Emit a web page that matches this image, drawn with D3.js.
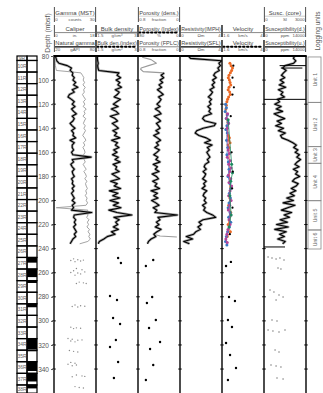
<!DOCTYPE html>
<html>
<head>
<meta charset="utf-8">
<script src="https://cdn.jsdelivr.net/npm/d3@7"></script>
<style>
  body { margin: 0; background: #fff; }
  text { font-family: "Liberation Sans", Arial, sans-serif; }
</style>
</head>
<body>
<script>
// depth samples of the downhole logs (mbsf)
const logDepth = [80, 82, 84, 86, 88, 90, 92, 94, 96, 98,
  100, 102, 104, 106, 108, 110, 112, 114, 116, 118,
  120, 122, 124, 126, 128, 130, 132, 134, 136, 138,
  140, 142, 144, 146, 148, 150, 152, 154, 156, 158,
  160, 162, 164, 166, 168, 170, 172, 174, 176, 178,
  180, 182, 184, 186, 188, 190, 192, 194, 196, 198,
  200, 202, 204, 206, 208, 210, 212, 214, 216, 218,
  220, 222, 224, 226, 228, 230, 232, 234, 236];

// natural gamma (gAPI)
const gammaNat = [22, 23, 24, 27, 39, 45, 43, 47, 46, 49,
  47, 51, 48, 54, 46, 49, 42, 40, 45, 49,
  46, 50, 45, 48, 52, 46, 49, 47, 43, 46,
  50, 45, 48, 47, 51, 43, 49, 46, 46, 48,
  45, 47, 73, 46, 48, 44, 46, 49, 46, 47,
  49, 45, 47, 46, 49, 46, 48, 45, 47, 49,
  46, 50, 46, 48, 45, 74, 49, 48, 51, 49,
  51, 48, 50, 52, 49, 51, 47, 45, 43];

// caliper (in.)
const caliper = [0.5, 0.5, 0.5, 0.5, 0.6, 0.8, 1, 11.5, 12.2, 12.8,
  12.5, 13.1, 12.4, 13.4, 12.7, 13.0, 12.2, 12.8, 13.5, 12.6,
  13.2, 12.5, 13.8, 12.9, 13.3, 12.4, 13.6, 13.0, 12.6, 13.4,
  12.8, 13.5, 12.9, 12.3, 13.1, 13.7, 12.6, 13.2, 12.4, 13.0,
  13.3, 12.7, 13.6, 12.9, 13.4, 12.5, 13.1, 13.8, 12.8, 13.5,
  13.9, 13.2, 14.1, 13.5, 13.8, 14.3, 13.6, 14.0, 13.4, 14.2,
  13.8, 14.4, 13.7, 1.0, 14.5, 13.9, 14.6, 14.0, 15.0, 14.3,
  14.8, 14.1, 15.2, 14.6, 15.4, 14.9, 15.6, 14.5, 11.0];

// bulk density (g/cm3)
const bulkDensity = [1.55, 1.55, 1.56, 1.58, 1.56, 1.57, 1.6, 2.32, 2.25, 2.38,
  2.22, 2.35, 2.28, 2.41, 2.19, 2.33, 2.26, 2.15, 2.37, 2.24,
  2.12, 2.29, 2.05, 2.22, 2.31, 2.01, 2.18, 2.27, 2.08, 2.2,
  2.3, 2.1, 2.24, 2.16, 2.35, 2.06, 2.27, 2.19, 2.32, 2.13,
  2.25, 2.09, 2.3, 2.18, 2.36, 2.11, 2.24, 2.2, 2.33, 2.07,
  2.21, 2.34, 2.02, 2.26, 2.15, 2.38, 1.98, 2.28, 2.1, 2.35,
  2.0, 2.3, 2.12, 2.39, 1.96, 2.25, 2.78, 2.14, 2.33, 2.2,
  2.28, 2.12, 2.3, 2.05, 2.18, 1.9, 1.78, 1.62, 1.58];

// porosity (fraction), log starts at 94 m
const porosity = [null, null, null, null, null, null, null, 0.3, 0.36, 0.31,
  0.38, 0.33, 0.4, 0.35, 0.43, 0.37, 0.32, 0.41, 0.36, 0.39,
  0.44, 0.38, 0.47, 0.4, 0.36, 0.49, 0.42, 0.37, 0.45, 0.41,
  0.38, 0.46, 0.4, 0.5, 0.43, 0.37, 0.45, 0.41, 0.48, 0.39,
  0.44, 0.5, 0.42, 0.46, 0.38, 0.51, 0.43, 0.47, 0.4, 0.53,
  0.45, 0.41, 0.52, 0.44, 0.48, 0.39, 0.55, 0.43, 0.5, 0.42,
  0.54, 0.46, 0.4, 0.51, 0.44, 0.48, 0.05, 0.42, 0.38, 0.45,
  0.4, 0.47, 0.36, 0.44, 0.5, 0.46, 0.55, 0.6, 0.62];
const porTopDepth = [81, 83, 86, 88, 90, 91, 93, 94];
const porTopVal = [0.72, 0.55, 0.45, 0.6, 0.74, 0.75, 0.7, 0.3];
const porBaseDepth = [228, 229.5, 230.3];
const porBaseVal = [0.5, 0.38, 0.06];

// resistivity (ohm m)
const resistivity = [0.8, 1.0, 3.95, 3.7, 3.85, 3.6, 3.75, 3.35, 3.2, 3.45,
  3.1, 3.3, 3.05, 3.25, 2.85, 3.1, 2.95, 2.7, 3.0, 2.8,
  2.95, 2.65, 2.9, 2.75, 3.0, 2.3, 2.15, 2.4, 3.4, 3.25,
  2.2, 1.6, 1.45, 1.8, 2.5, 2.9, 2.35, 3.05, 2.6, 2.8,
  2.55, 2.7, 2.85, 2.6, 2.75, 2.4, 2.3, 2.5, 2.2, 2.45,
  2.35, 2.15, 2.5, 2.25, 2.4, 2.1, 2.55, 2.3, 2.2, 2.45,
  2.3, 2.5, 2.15, 2.4, 2.25, 2.55, 3.1, 3.4, 2.2, 1.8,
  2.05, 1.7, 1.95, 1.5, 1.3, 0.6, 1.2, 0.35, 0.9];

// magnetic susceptibility (ppm)
const susceptibility = [10200, 9800, 10600, 9900, 7000, 6200, 7400, 6500, 5800, 6900,
  5400, 6600, 5100, 7200, 4800, 6300, 5600, 6800, 4500, 5200,
  3600, 5700, 4100, 6200, 3400, 5000, 6900, 4400, 5800, 3900,
  6500, 4800, 7100, 5500, 6000, 8000, 9600, 10800, 9900, 11300,
  10400, 11800, 10900, 12200, 11100, 10300, 11700, 9800, 11200, 10500,
  11900, 10200, 9500, 11400, 10700, 9100, 10600, 8700, 10100, 7600,
  9800, 6400, 10300, 7900, 5800, 9200, 6700, 8500, 5400, 7800,
  4200, 8100, 3600, 7400, 5200, 6800, 4600, 7100, 6200];
const suscSpikeDepth = [88, 90, 116, 238.6];
const suscSpikeLo = [5200, 5600, 0, 0];
const suscSpikeHi = [14000, 12800, 14000, 7000];

// velocity (km/s), several series
const velOrangeDepth = [86, 88, 90, 92, 94, 96, 98, 100, 102, 104, 106, 108, 110, 112, 114, 116, 118, 121, 124, 146, 148, 150, 152, 154, 156, 198, 204, 210, 214, 220, 226, 230];
const velOrange = [2.05, 2.12, 2.2, 2.15, 2.08, 2.0, 1.96, 2.02, 2.06, 2.1, 2.0, 1.95, 2.04, 2.08, 1.98, 1.92, 1.88, 1.85, 1.82, 1.95, 2.02, 1.98, 2.06, 1.94, 2.0, 2.05, 1.98, 2.1, 2.02, 1.95, 2.08, 1.9];
const velBlueDepth = [120, 123, 126, 129, 132, 135, 138, 141, 144, 150, 156, 162, 168, 174, 180, 186, 190, 194, 198, 202, 206, 210, 214, 218, 222, 226, 230, 234, 237];
const velBlue = [1.8, 1.85, 1.78, 1.9, 1.84, 1.95, 1.88, 1.82, 1.9, 1.86, 1.92, 1.88, 1.96, 2.0, 1.94, 2.05, 2.1, 2.02, 2.08, 2.0, 1.95, 2.06, 1.98, 2.1, 2.02, 1.92, 1.85, 1.8, 1.88];
const velMagentaDepth = [128, 132, 136, 140, 158, 161, 164, 167, 170, 173, 176, 179, 182, 185, 188, 192, 196, 200, 204, 208, 212, 216, 220, 224, 228, 232, 235];
const velMagenta = [1.92, 1.86, 1.98, 1.9, 1.95, 2.02, 1.9, 2.08, 1.98, 2.12, 2.05, 1.96, 2.1, 2.0, 2.15, 2.06, 1.98, 2.12, 2.04, 1.96, 2.1, 2.0, 2.06, 1.94, 1.88, 1.82, 1.9];
const velGreenDepth = [133, 170, 177, 184, 196, 212, 222];
const velGreen = [1.95, 2.15, 2.2, 2.1, 2.05, 2.12, 2.0];
const velBlackDepth = [88, 98, 106, 112, 130, 160, 176, 190, 206, 228];
const velBlack = [2.25, 2.2, 2.28, 2.2, 2.1, 2.15, 2.22, 2.18, 2.2, 2.05];

// discrete core measurements below the logged interval
const coreDensDepth = [247.8, 251.9, 279.3, 282.6, 297.6, 302.6, 315.9, 321.7, 334.2, 347.4];
const coreDens = [2.29, 2.39, 2.0, 2.25, 2.11, 2.36, 2.21, 2.0, 2.29, 2.14];
const corePorDepth = [249.4, 254.4, 280.2, 285.1, 299.3, 305.9, 317.5, 323.4, 336.6, 349.1];
const corePor = [0.51, 0.65, 0.53, 0.63, 0.46, 0.59, 0.38, 0.57, 0.51, 0.65];
const coreVelDepth = [251, 254.4, 280.2, 283.5, 299.3, 305.1, 318.4, 328.3, 339.1, 349.1];
const coreVel = [2.11, 1.83, 2.0, 2.34, 1.94, 2.17, 1.83, 2.06, 2.4, 1.94];
const coreSuscDepth = [246.9, 247.8, 248.6, 247.8, 249.4, 256.1, 256.9, 274.4, 276, 278.5, 280.2, 282.7, 299.3, 300.1, 307.6, 308.4, 309.2, 307.6, 324.2, 325.8, 336.6, 337.5, 338.3, 347.4, 348.3];
const coreSusc = [290, 570, 860, 1140, 1430, 1000, 1210, 430, 710, 1070, 1360, 860, 570, 930, 290, 640, 1070, 1500, 790, 1070, 500, 860, 1210, 930, 1360];
const mstGammaDepth = [248.5, 249.2, 249.8, 250.3, 249.5, 250.8,
  256.5, 257.5, 258.4, 259.3, 260.2, 261.0, 262.0, 259.8,
  267.8, 268.4, 269.0, 268.9,
  286.8, 287.4, 288.0, 287.9, 288.5,
  305.2, 305.8, 306.4, 306.1,
  314.6, 315.3, 316.0, 316.7, 317.4, 315.8,
  324.6, 325.3, 325.9,
  334.5, 335.2, 336.0, 336.6, 337.3,
  345.0, 345.7, 346.4, 346.1,
  354.6, 355.3, 355.8];
const mstGamma = [14, 17, 12, 19, 21, 15,
  16, 20, 14, 22, 17, 19, 15, 12,
  18, 21, 16, 23,
  15, 19, 13, 22, 17,
  12, 16, 14, 19,
  10, 13, 17, 12, 15, 20,
  11, 14, 17,
  12, 15, 10, 16, 13,
  16, 20, 13, 22,
  15, 18, 21];

// cores and recovery
const coreNames = ["9R", "10R", "11R", "12R", "13R", "14R", "15R", "16R", "17R", "18R",
  "19R", "20R", "21R", "22R", "23R", "24R", "25R", "26R", "27R", "28R",
  "29R", "30R", "31R", "32R", "33R", "34R", "35R", "36R", "37R", "38R"];
const coreTop = [74.1, 83.7, 93.3, 102.9, 112.6, 122.2, 131.8, 141.4, 151.1, 160.7,
  170.3, 179.9, 189.6, 199.2, 208.8, 218.4, 228.1, 237.7, 247.3, 256.9,
  266.6, 276.2, 285.8, 295.4, 305.1, 314.7, 324.3, 333.9, 343.6, 353.2];
const coreRecovery = [0, 0, 0, 0, 0, 0, 0, 0, 0, 0,
  0, 0, 0, 0, 0, 0, 0, 0, 0.45, 0.7,
  0.2, 0.05, 0.3, 0.05, 0.05, 0.9, 0.1, 0.8, 0.7, 0.3];

// logging units
const unitNames = ["Unit 1", "Unit 2", "Unit 3", "Unit 4", "Unit 5", "Unit 6"];
const unitBounds = [80.8, 118.5, 155.3, 169.1, 200.2, 224.5, 240.3];

const depthTicks = [80, 100, 120, 140, 160, 180, 200, 220, 240, 260, 280, 300, 320, 340];

// header cells: [title, left scale, unit, right scale, line style], one row per header line
const headerRow1 = [["Gamma (MST)", "0", "counts", "30", "light"], null, ["Porosity (dens.)", "0.8", "fraction", "0", "light"], null, null, ["Susc. (core)", "0", "SI", "3000", "thin"]];
const headerRow2 = [["Caliper", "0", "in.", "18", "gray"], ["Bulk density", "1.5", "g/cm³", "3", "thickgray"], ["Porosity (Index)", "80", "%", "0", "dots"], ["Resistivity(IMPH)", "0", "Ωm", "4", "gray"], ["Velocity", "1.6", "km/s", "4", "gray"], ["Susceptibility(d.)", "0", "ppm", "14000", "gray"]];
const headerRow3 = [["Natural gamma", "20", "gAPI", "80", "black"], ["Bulk den.(index)", "1.5", "g/cm³", "3", "dots"], ["Porosity (FPLC)", "0.8", "fraction", "0", "gray"], ["Resistivity(SFL)", "0", "Ωm", "4", "black"], ["Velocity", "1.6", "km/s", "4", "dots"], ["Susceptibility(u.)", "0", "ppm", "14000", "black"]];

// ---------------------------------------------------------------
const width = 323, height = 393;
const trackX = [54, 96, 138, 180, 222, 264, 306];
const frameTop = 56;

const svg = d3.select("body").append("svg")
  .attr("width", width)
  .attr("height", height);

const y = d3.scaleLinear().domain([80, 360]).range([frameTop, frameTop + 280 * 1.204]);

const xGamma = d3.scaleLinear().domain([20, 80]).range([trackX[0], trackX[1]]);
const xCal = d3.scaleLinear().domain([0, 18]).range([trackX[0], trackX[1]]);
const xMst = d3.scaleLinear().domain([0, 30]).range([trackX[0], trackX[1]]);
const xRho = d3.scaleLinear().domain([1.5, 3]).range([trackX[1], trackX[2]]);
const xPor = d3.scaleLinear().domain([0.8, 0]).range([trackX[2], trackX[3]]);
const xRes = d3.scaleLinear().domain([0, 4]).range([trackX[3], trackX[4]]);
const xVel = d3.scaleLinear().domain([1.6, 4]).range([trackX[4], trackX[5]]);
const xSus = d3.scaleLinear().domain([0, 14000]).range([trackX[5], trackX[6]]);
const xSusCore = d3.scaleLinear().domain([0, 3000]).range([trackX[5], trackX[6]]);

// one clip per track
const defs = svg.append("defs");
for (let i = 0; i < 6; i++) {
  defs.append("clipPath").attr("id", "clip" + i)
    .append("rect")
    .attr("x", trackX[i]).attr("y", frameTop)
    .attr("width", trackX[i + 1] - trackX[i]).attr("height", height - frameTop);
  defs.append("clipPath").attr("id", "hclip" + i)
    .append("rect")
    .attr("x", trackX[i] + 0.5).attr("y", 0)
    .attr("width", trackX[i + 1] - trackX[i] - 1).attr("height", frameTop);
}

function zip(depths, values) {
  return depths.map((d, i) => [d, values[i]]);
}

function drawCurve(track, data, xs, opts) {
  const line = d3.line()
    .defined(d => d[1] != null)
    .x(d => xs(d[1]))
    .y(d => y(d[0]));
  const g = svg.append("g").attr("clip-path", `url(#clip${track})`);
  if (opts.halo) {
    g.append("path").datum(data).attr("d", line)
      .attr("fill", "none").attr("stroke", "#a8a8a8")
      .attr("stroke-width", 2.6).attr("stroke-linejoin", "round");
  }
  g.append("path").datum(data).attr("d", line)
    .attr("fill", "none").attr("stroke", opts.color)
    .attr("stroke-width", opts.width).attr("stroke-linejoin", "round");
}

function drawDots(track, data, xs, color, r) {
  svg.append("g").attr("clip-path", `url(#clip${track})`)
    .selectAll("circle").data(data).join("circle")
    .attr("cx", d => xs(d[1]))
    .attr("cy", d => y(d[0]))
    .attr("r", r)
    .attr("fill", color);
}

// ---- track 1: gamma / caliper
drawCurve(0, zip(logDepth, caliper), xCal, { color: "#9a9a9a", width: 0.9 });
drawCurve(0, zip(logDepth, gammaNat), xGamma, { color: "#000", width: 1.1, halo: true });
drawDots(0, zip(mstGammaDepth, mstGamma), xMst, "#8a8a8a", 0.7);

// ---- track 2: density
drawCurve(1, zip(logDepth, bulkDensity), xRho, { color: "#000", width: 1.1, halo: true });
drawDots(1, zip(coreDensDepth, coreDens), xRho, "#000", 1.2);

// ---- track 3: porosity
drawCurve(2, zip(porTopDepth, porTopVal), xPor, { color: "#9a9a9a", width: 1.1 });
drawCurve(2, zip(porBaseDepth, porBaseVal), xPor, { color: "#9a9a9a", width: 1.1 });
drawCurve(2, zip(logDepth, porosity), xPor, { color: "#000", width: 1.1, halo: true });
drawDots(2, zip(corePorDepth, corePor), xPor, "#000", 1.2);

// ---- track 4: resistivity
drawCurve(3, zip(logDepth, resistivity), xRes, { color: "#000", width: 1.1, halo: true });

// ---- track 5: velocity
const velSeries = [
  [velOrangeDepth, velOrange, "#ec6a25"],
  [velBlueDepth, velBlue, "#3b78c4"],
  [velMagentaDepth, velMagenta, "#b2449a"],
  [velGreenDepth, velGreen, "#1c8a60"]
];
velSeries.forEach(([dd, vv, c]) => {
  drawCurve(4, zip(dd, vv), xVel, { color: c, width: 0.8 });
  drawDots(4, zip(dd, vv), xVel, c, 1.5);
});
drawDots(4, zip(velBlackDepth, velBlack), xVel, "#000", 1.1);
drawDots(4, zip(coreVelDepth, coreVel), xVel, "#000", 1.2);

// ---- track 6: susceptibility
drawCurve(5, zip(logDepth, susceptibility), xSus, { color: "#000", width: 1.1, halo: true });
svg.append("g").attr("clip-path", "url(#clip5)")
  .selectAll("line").data(suscSpikeDepth).join("line")
  .attr("x1", (d, i) => xSus(suscSpikeLo[i]))
  .attr("x2", (d, i) => xSus(suscSpikeHi[i]))
  .attr("y1", d => y(d)).attr("y2", d => y(d))
  .attr("stroke", "#000").attr("stroke-width", 1);
drawDots(5, zip(coreSuscDepth, coreSusc), xSusCore, "#777", 0.75);

// ---- frame and ticks
svg.append("g").selectAll("line").data(trackX).join("line")
  .attr("x1", d => d).attr("x2", d => d)
  .attr("y1", frameTop).attr("y2", height)
  .attr("stroke", "#000").attr("stroke-width", 1.4);
svg.append("line")
  .attr("x1", trackX[0] - 0.7).attr("x2", trackX[6] + 0.7)
  .attr("y1", frameTop).attr("y2", frameTop)
  .attr("stroke", "#000").attr("stroke-width", 2);

trackX.forEach(x0 => {
  svg.append("g").selectAll("line").data(depthTicks.slice(1)).join("line")
    .attr("x1", x0 - 1.8).attr("x2", x0 + 1.8)
    .attr("y1", d => y(d)).attr("y2", d => y(d))
    .attr("stroke", "#000").attr("stroke-width", 0.9);
});

// depth axis
const axis = svg.append("g")
  .attr("transform", `translate(${trackX[0]},0)`)
  .call(d3.axisLeft(y).tickValues(depthTicks).tickSize(3).tickPadding(2));
axis.select(".domain").remove();
axis.selectAll("line").attr("stroke", "#555");
axis.selectAll("text").attr("font-size", 6.5).attr("fill", "#555")
  .attr("font-family", "Liberation Sans, Arial, sans-serif");

svg.append("text")
  .attr("transform", "translate(49.5,33) rotate(-90)")
  .attr("text-anchor", "middle")
  .attr("font-size", 6.8).attr("fill", "#555")
  .text("Depth (mbsf)");

// ---- header
const rowGeom = [
  { top: 7, bottom: 22, title: 14.8, line: 16.2, scale: 21 },
  { top: 25, bottom: 37, title: 31.2, line: 32.6, scale: 36.6 },
  { top: 40, bottom: 52, title: 45.2, line: 46.8, scale: 51.4 }
];
[headerRow1, headerRow2, headerRow3].forEach((row, r) => {
  const gm = rowGeom[r];
  row.forEach((cell, i) => {
    if (!cell) return;
    const [title, lo, unit, hi, style] = cell;
    const x0 = trackX[i], x1 = trackX[i + 1];
    const g = svg.append("g").attr("clip-path", `url(#hclip${i})`);
    const t = g.append("text")
      .attr("y", gm.title)
      .attr("x", (x0 + x1) / 2).attr("text-anchor", "middle")
      .attr("font-size", 6).attr("fill", "#444")
      .text(title);
    const w = t.node().getComputedTextLength();
    const room = x1 - x0 - 2.5;
    if (w > room) t.attr("textLength", room).attr("lengthAdjust", "spacingAndGlyphs");

    const ln = g.append("line")
      .attr("x1", x0 + 1).attr("x2", x1 - 1)
      .attr("y1", gm.line).attr("y2", gm.line);
    if (style === "black") ln.attr("stroke", "#000").attr("stroke-width", 1.2);
    else if (style === "gray") ln.attr("stroke", "#888").attr("stroke-width", 1);
    else if (style === "thickgray") ln.attr("stroke", "#777").attr("stroke-width", 1.6);
    else if (style === "light") ln.attr("stroke", "#bbb").attr("stroke-width", 0.6);
    else if (style === "thin") ln.attr("stroke", "#999").attr("stroke-width", 0.5);
    else if (style === "dots") ln.attr("stroke", "#000").attr("stroke-width", 2)
      .attr("stroke-dasharray", "1.6,2.4").attr("stroke-linecap", "round");

    const sc = g.append("g").attr("font-size", 4.4).attr("fill", "#555");
    sc.append("text").attr("x", x0 + 1.3).attr("y", gm.scale).text(lo);
    sc.append("text").attr("x", (x0 + x1) / 2).attr("y", gm.scale)
      .attr("text-anchor", "middle").text(unit);
    sc.append("text").attr("x", x1 - 1.3).attr("y", gm.scale)
      .attr("text-anchor", "end").text(hi);

    svg.append("g").selectAll("line").data([x0 + 0.4, x1 - 0.4]).join("line")
      .attr("x1", d => d).attr("x2", d => d)
      .attr("y1", gm.top).attr("y2", gm.bottom)
      .attr("stroke", "#222").attr("stroke-width", 0.8);
  });
});

// ---- core column
const coreG = svg.append("g");
const cores = coreNames.map((n, i) => ({
  name: n,
  t: Math.max(coreTop[i], 80),
  b: Math.min(coreTop[i] + 9.63, 360),
  top0: coreTop[i],
  rec: coreRecovery[i]
}));
coreG.selectAll("rect.rec").data(cores).join("rect")
  .attr("class", "rec")
  .attr("x", 27).attr("width", 10)
  .attr("y", d => y(d.t))
  .attr("height", d => Math.max(0, y(Math.min(d.top0 + d.rec * 9.63, 360)) - y(d.t)))
  .attr("fill", "#000");
coreG.selectAll("rect.box").data(cores).join("rect")
  .attr("class", "box")
  .attr("x", 17).attr("width", 10)
  .attr("y", d => y(d.t)).attr("height", d => y(d.b) - y(d.t))
  .attr("fill", "none").attr("stroke", "#000").attr("stroke-width", 1.2);
coreG.selectAll("rect.box2").data(cores).join("rect")
  .attr("class", "box2")
  .attr("x", 27).attr("width", 10)
  .attr("y", d => y(d.t)).attr("height", d => y(d.b) - y(d.t))
  .attr("fill", "none").attr("stroke", "#000").attr("stroke-width", 1.2);
coreG.selectAll("text").data(cores).join("text")
  .attr("x", 22)
  .attr("y", d => (y(d.t) + y(d.b)) / 2 + 1.8)
  .attr("text-anchor", "middle")
  .attr("font-size", 5).attr("fill", "#666")
  .text(d => d.name);

// ---- logging units
const units = unitNames.map((n, i) => ({ name: n, t: unitBounds[i], b: unitBounds[i + 1] }));
const unitG = svg.append("g");
unitG.selectAll("rect").data(units).join("rect")
  .attr("x", 308).attr("width", 13)
  .attr("y", d => y(d.t)).attr("height", d => y(d.b) - y(d.t))
  .attr("fill", "none").attr("stroke", "#888").attr("stroke-width", 0.8);
unitG.selectAll("text").data(units).join("text")
  .attr("transform", d => `translate(316.5,${(y(d.t) + y(d.b)) / 2}) rotate(-90)`)
  .attr("text-anchor", "middle")
  .attr("font-size", 5.2).attr("fill", "#666")
  .text(d => d.name);

svg.append("text")
  .attr("transform", "translate(320,31) rotate(-90)")
  .attr("text-anchor", "middle")
  .attr("font-size", 6.6).attr("fill", "#555")
  .text("Logging units");
</script>
</body>
</html>
